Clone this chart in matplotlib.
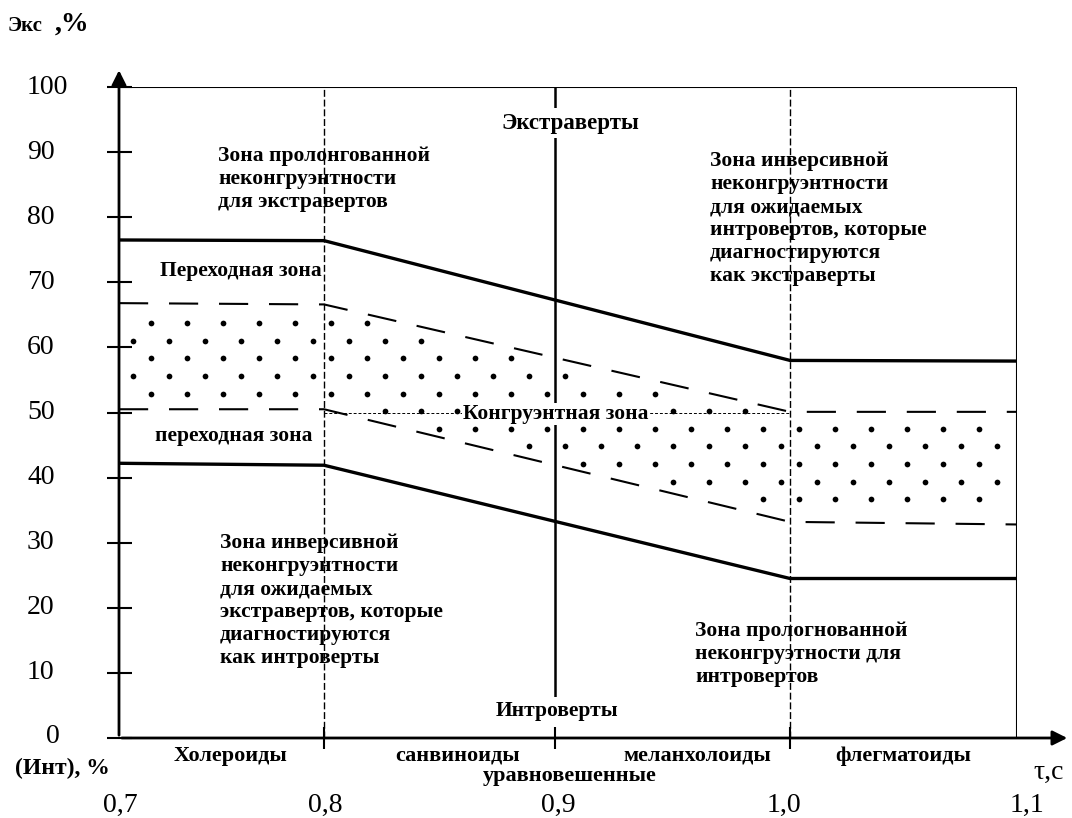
import numpy as np
import matplotlib
matplotlib.use("Agg")
import matplotlib.pyplot as plt
import matplotlib.transforms as mtrans

plt.rcParams['font.family'] = ['Liberation Serif', 'DejaVu Serif']

# Данные (ось tau, с; ось Экс/Инт, %)
tau_ticks = [0.7, 0.8, 0.9, 1.0, 1.1]
tau_labels = ["0,7", "0,8", "0,9", "1,0", "1,1"]
pct_ticks = [0, 10, 20, 30, 40, 50, 60, 70, 80, 90, 100]

tau_pts = [0.7, 0.8, 1.0, 1.1]
upper_solid = [76.5, 76.4, 58.0, 57.9]
upper_dash = [66.8, 66.6, 50.1, 50.1]
lower_dash = [50.5, 50.5, 33.2, 32.8]
lower_solid = [42.2, 41.9, 24.5, 24.5]

types = ["Холероиды", "санвиноиды", "меланхолоиды", "флегматоиды"]

# шкала на рисунке нарисована от руки и неравномерна (пиксели делений)
W, H = 1072, 818
X0, Y0, Y100 = 119, 738, 87
tau_px = [0, 205, 436, 671, 898]
k_lo = (tau_px[1] - tau_px[0]) / 0.1
k_hi = (tau_px[-1] - tau_px[-2]) / 0.1


def fwd(x):
    x = np.asarray(x, float)
    y = np.interp(x, tau_ticks, tau_px)
    y = np.where(x < tau_ticks[0], tau_px[0] + (x - tau_ticks[0]) * k_lo, y)
    y = np.where(x > tau_ticks[-1], tau_px[-1] + (x - tau_ticks[-1]) * k_hi, y)
    return y


def inv(p):
    p = np.asarray(p, float)
    x = np.interp(p, tau_px, tau_ticks)
    x = np.where(p < tau_px[0], tau_ticks[0] + (p - tau_px[0]) / k_lo, x)
    x = np.where(p > tau_px[-1], tau_ticks[-1] + (p - tau_px[-1]) / k_hi, x)
    return x


def PX(px):
    return float(inv(px - X0))


def PY(py):
    return (Y0 - py) * 100.0 / (Y0 - Y100)


fig = plt.figure(figsize=(W / 100, H / 100), dpi=100)
ax = fig.add_axes([X0 / W, (H - Y0) / H, tau_px[-1] / W, (Y0 - Y100) / H])
ax.set_xscale('function', functions=(fwd, inv))
ax.set_xlim(tau_ticks[0], tau_ticks[-1])
ax.set_ylim(0, 100)
for s in ax.spines.values():
    s.set_visible(False)

# рамка и разделители
x0, x1 = tau_ticks[0], tau_ticks[-1]
ax.plot([x0, x1], [100, 100], color='black', lw=1.5)
ax.plot([x1, x1], [0, 100], color='black', lw=1.5)
ax.plot([tau_ticks[1]] * 2, [0, 100], color='black', lw=1.0, ls=(0, (5, 2)))
ax.plot([tau_ticks[3]] * 2, [0, 100], color='black', lw=1.0, ls=(0, (5, 2)))
ax.plot([tau_ticks[2]] * 2, [3, 100], color='black', lw=1.8)
ax.plot([tau_ticks[1], tau_ticks[3]], [50, 50], color='black', lw=0.7, ls=(0, (3, 2)))

# оси со стрелками
ax.annotate('', xy=((W - 2 - X0) / tau_px[-1], 0), xytext=(0, 0), xycoords='axes fraction',
            arrowprops=dict(arrowstyle='-|>', color='black', lw=2, mutation_scale=22))
ax.annotate('', xy=(0, 1.03), xytext=(0, 0), xycoords='axes fraction',
            arrowprops=dict(arrowstyle='-|>', color='black', lw=2, mutation_scale=22))

ax.set_yticks(pct_ticks)
ax.set_xticks(tau_ticks[1:4])
ax.tick_params(axis='y', direction='inout', length=18, width=1.5, labelleft=False)
ax.tick_params(axis='x', direction='inout', length=16, width=1.5, labelbottom=False)

# точечная заливка конгруэнтной зоны (шахматная сетка точек)
dot_x, dot_y = [], []
for i, yv in enumerate(np.arange(34.0, 66.5, 2.7)):
    xs = inv(np.arange(14 + (i % 2) * 18, tau_px[-1] - 6, 36))
    lo = np.interp(xs, tau_pts, lower_dash)
    hi = np.interp(xs, tau_pts, upper_dash)
    keep = (yv > lo + 1.2) & (yv < hi - 1.2)
    dot_x.extend(xs[keep])
    dot_y.extend([yv] * int(keep.sum()))
ax.scatter(dot_x, dot_y, s=17, color='black', linewidths=0, zorder=2)

# границы зон
ax.plot(tau_pts, upper_solid, color='black', lw=2.4)
ax.plot(tau_pts, lower_solid, color='black', lw=2.4)
ax.plot(tau_pts, upper_dash, color='black', lw=1.5, ls=(0, (14, 10)))
ax.plot(tau_pts, lower_dash, color='black', lw=1.5, ls=(0, (14, 10)))

# подписи зон
bold = dict(fontsize=15.5, fontweight='bold', linespacing=1.2)
white = dict(facecolor='white', edgecolor='none', pad=3)
ax.text(PX(570), PY(123), "Экстраверты", ha='center', va='center', bbox=white,
        zorder=5, fontsize=16.5, fontweight='bold')
ax.text(PX(557), PY(711), "Интроверты", ha='center', va='center', bbox=white,
        zorder=5, **bold)
ax.text(PX(218), PY(146), "Зона пролонгованной\nнеконгруэнтности\nдля экстравертов",
        ha='left', va='top', **bold)
ax.text(PX(710), PY(151), "Зона инверсивной\nнеконгруэнтности\nдля ожидаемых\n"
        "интровертов, которые\nдиагностируются\nкак экстраверты",
        ha='left', va='top', **bold)
ax.text(PX(160), PY(271), "Переходная зона", ha='left', va='center', **bold)
ax.text(PX(463), PY(414), "Конгруэнтная зона", ha='left', va='center',
        bbox=dict(facecolor='white', edgecolor='none', pad=1), zorder=5, **bold)
ax.text(PX(155), PY(436), "переходная зона", ha='left', va='center', **bold)
ax.text(PX(220), PY(533), "Зона инверсивной\nнеконгруэнтности\nдля ожидаемых\n"
        "экстравертов, которые\nдиагностируются\nкак интроверты",
        ha='left', va='top', **bold)
ax.text(PX(695), PY(621), "Зона прологнованной\nнеконгруэтности для\nинтровертов",
        ha='left', va='top', **bold)

# подписи типов под осью
tx = mtrans.blended_transform_factory(ax.transData, fig.transFigure)
type_px = [230, 458, 697, 903]
for t, p in zip(types, type_px):
    fig.text(PX(p), 1 - 756 / H, t, transform=tx, ha='center', va='center',
             fontsize=16, fontweight='bold')
fig.text(PX(570), 1 - 776 / H, "уравновешенные", transform=tx, ha='center',
         va='center', fontsize=16, fontweight='bold')

# подписи делений
label_px = [120, 325, 558, 784, 1027]
for p, lab in zip(label_px, tau_labels):
    fig.text(PX(p), 1 - 805 / H, lab, transform=tx, ha='center', va='center',
             fontsize=20)
ty = mtrans.blended_transform_factory(fig.transFigure, ax.transData)
for v in pct_ticks[1:]:
    fig.text(27 / W, v, str(v), transform=ty, ha='left', va='center', fontsize=20)
fig.text(53 / W, 0.3, "0", transform=ty, ha='center', va='center', fontsize=20)

fig.text(8 / W, 1 - 26 / H, "Экс", ha='left', va='center', fontsize=15,
         fontweight='bold')
fig.text(55 / W, 1 - 24 / H, ",%", ha='left', va='center', fontsize=20,
         fontweight='bold')
fig.text(62 / W, 1 - 768 / H, "(Инт), %", ha='center', va='center', fontsize=17,
         fontweight='bold')
fig.text(1049 / W, 1 - 772 / H, "τ,с", ha='center', va='center', fontsize=20)

fig.savefig("out.png", dpi=100)
